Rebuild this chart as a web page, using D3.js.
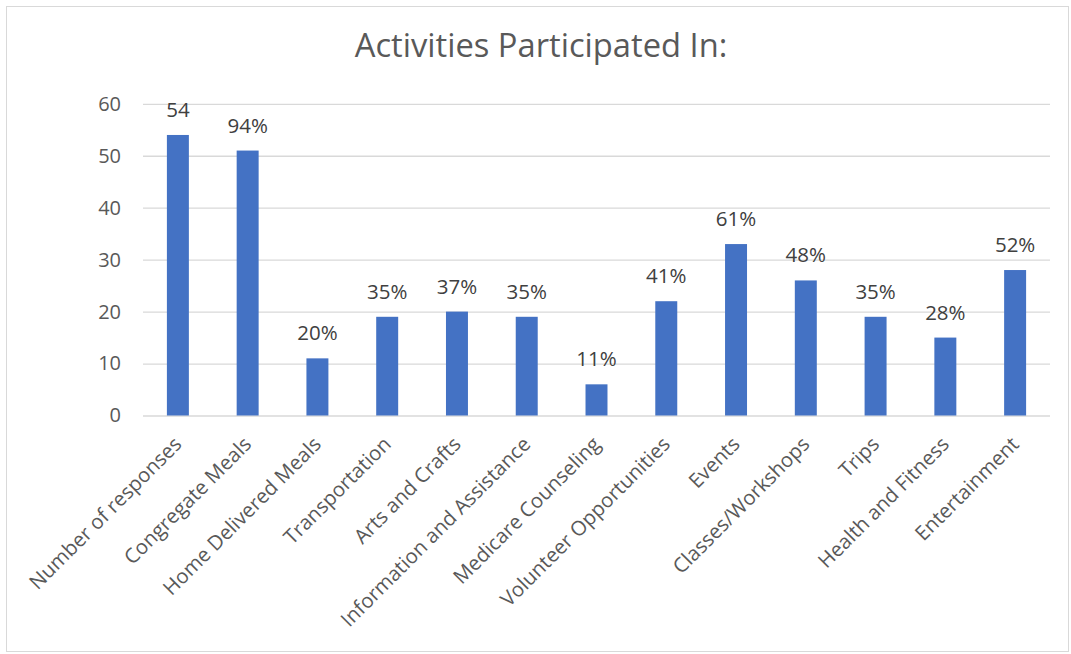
<!DOCTYPE html>
<html><head><meta charset="utf-8">
<script src="https://cdn.jsdelivr.net/npm/d3@7"></script>
<style>body{margin:0;background:#fff;}svg{display:block;}</style>
</head><body>
<script>
const categories = ["Number of responses","Congregate Meals","Home Delivered Meals","Transportation","Arts and Crafts","Information and Assistance","Medicare Counseling","Volunteer Opportunities","Events","Classes/Workshops","Trips","Health and Fitness","Entertainment"];
const values = [54,51,11,19,20,19,6,22,33,26,19,15,28];
const labels = ["54","94%","20%","35%","37%","35%","11%","41%","61%","48%","35%","28%","52%"];
const yTicks = [0,10,20,30,40,50,60];
const title = "Activities Participated In:";

const W = 1071, H = 654;
const font = "'Open Sans', 'Segoe UI', sans-serif";
const svg = d3.select("body").append("svg").attr("width", W).attr("height", H);
svg.append("rect").attr("width", W).attr("height", H).attr("fill", "#fff");
svg.append("rect").attr("x", 6.5).attr("y", 6.5).attr("width", W - 9).attr("height", H - 9)
  .attr("fill", "none").attr("stroke", "#d9d9d9").attr("stroke-width", 1);

const x = d3.scaleBand().domain(categories).range([143, 1050]).paddingInner(0.685).paddingOuter(0.3425);
const y = d3.scaleLinear().domain([0, 60]).range([415.5, 103.8]);

svg.append("text").attr("x", 541).attr("y", 57).attr("text-anchor", "middle")
  .attr("font-family", font).attr("font-size", 32.7).attr("fill", "#595959").text(title);

// gridlines
const grid = svg.append("g").attr("transform", "translate(143,0)")
  .call(d3.axisLeft(y).tickValues(yTicks).tickSize(-907).tickFormat(""));
grid.select(".domain").remove();
grid.selectAll("line").attr("stroke", "#d9d9d9").attr("stroke-width", 1.3);

// y labels
const yAx = svg.append("g").attr("transform", "translate(121,0)")
  .call(d3.axisLeft(y).tickValues(yTicks).tickSize(0).tickPadding(0));
yAx.select(".domain").remove();
yAx.selectAll("text").attr("font-family", font).attr("font-size", 20).attr("fill", "#595959");

// bars
svg.append("g").selectAll("rect").data(values).join("rect")
  .attr("x", (d, i) => x(categories[i])).attr("width", x.bandwidth())
  .attr("y", d => y(d)).attr("height", d => y(0) - y(d))
  .attr("fill", "#4472c4");

// data labels
svg.append("g").selectAll("text").data(values).join("text")
  .attr("x", (d, i) => x(categories[i]) + x.bandwidth() / 2)
  .attr("y", d => y(d) - 18)
  .attr("text-anchor", "middle").attr("font-family", font).attr("font-size", 20.5).attr("fill", "#404040")
  .text((d, i) => labels[i]);

// x labels
const xAx = svg.append("g").attr("transform", "translate(0,415.5)")
  .call(d3.axisBottom(x).tickSize(0).tickPadding(0));
xAx.select(".domain").remove();
xAx.selectAll("text")
  .attr("font-family", font).attr("font-size", 20.3).attr("fill", "#595959")
  .attr("text-anchor", "end").attr("dy", "0.35em").attr("y", 0).attr("x", 0)
  .attr("transform", "translate(0,25) rotate(-45)");
</script>
</body></html>
